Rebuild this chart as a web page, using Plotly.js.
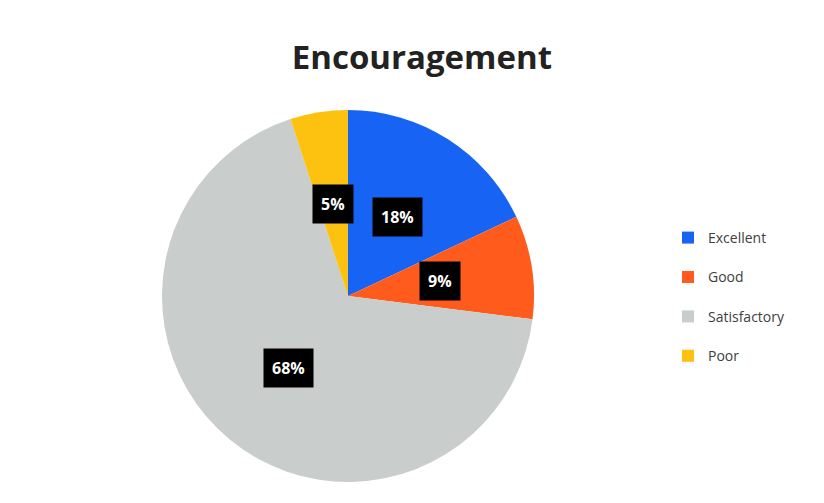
<!DOCTYPE html>
<html>
<head>
<meta charset="utf-8">
<script src="https://cdn.plot.ly/plotly-3.0.1.min.js"></script>
<style>html,body{margin:0;padding:0;background:#fff;}#chart{width:824px;height:503px;}</style>
</head>
<body>
<div id="chart"></div>
<script>
// Data
var categories = ["Excellent", "Good", "Satisfactory", "Poor"];
var values = [18, 9, 68, 5];
var colors = ["#1764f4", "#ff5b1c", "#c9cdcc", "#fdc10f"];

var W = 824, H = 503;
var cx = 348, cy = 296, R = 186;
var domX = [(cx - R) / W, (cx + R) / W];
var domY = [(H - cy - R) / H, (H - cy + R) / H];

var total = values.reduce(function (a, b) { return a + b; }, 0);
var annotations = [];
var cum = 0;
values.forEach(function (v, i) {
  var mid = (cum + v / 2) / total * 2 * Math.PI;
  cum += v;
  var px = cx + 0.5 * R * Math.sin(mid);
  var py = cy - 0.5 * R * Math.cos(mid);
  annotations.push({
    xref: "paper", yref: "paper",
    x: px / W, y: 1 - py / H,
    xanchor: "center", yanchor: "middle",
    text: Math.round(v / total * 100) + "%",
    showarrow: false,
    font: {family: "Open Sans, sans-serif", size: 16, color: "#ffffff", weight: "bold"},
    bgcolor: "#000000",
    borderpad: 8
  });
});

var trace = {
  type: "pie",
  labels: categories.map(function (c) { return c + "<br>&nbsp;"; }),
  values: values,
  marker: {colors: colors, line: {width: 0}},
  sort: false,
  direction: "clockwise",
  rotation: 0,
  textinfo: "none",
  hoverinfo: "label+percent",
  domain: {x: domX, y: domY}
};

var layout = {
  width: W, height: H,
  margin: {l: 0, r: 0, t: 0, b: 0},
  paper_bgcolor: "#ffffff",
  title: {
    text: "<b>Encouragement</b>",
    font: {family: "Open Sans, sans-serif", size: 33, color: "#222222"},
    x: 0.512, xanchor: "center",
    y: 1 - 57 / H, yanchor: "middle", yref: "container"
  },
  showlegend: true,
  legend: {
    x: 668 / W, xanchor: "left",
    y: 1 - 222 / H, yanchor: "top",
    valign: "top",
    font: {family: "Open Sans, sans-serif", size: 14, color: "#404040"},
    bgcolor: "rgba(0,0,0,0)"
  },
  annotations: annotations
};

Plotly.newPlot("chart", [trace], layout, {displayModeBar: false, staticPlot: true});
</script>
</body>
</html>
